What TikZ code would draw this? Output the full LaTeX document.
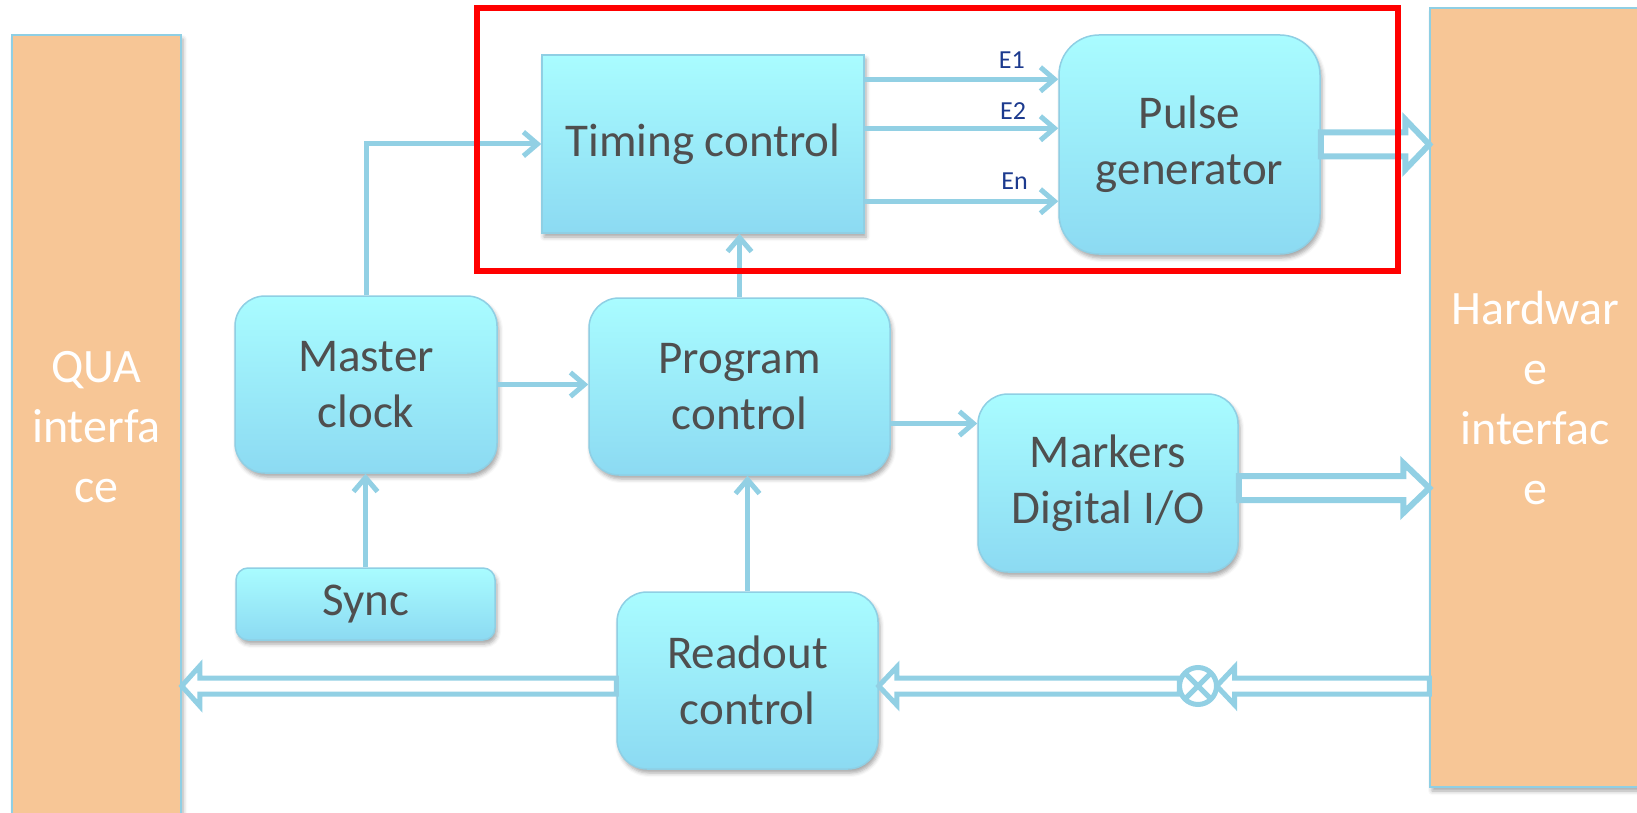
\documentclass[tikz,border=0pt]{standalone}
\usepackage{fontspec}
\setmainfont{Carlito}
\usetikzlibrary{arrows.meta,calc,shadows.blur}

\definecolor{cyantop}{HTML}{A9FCFF}
\definecolor{cyanbot}{HTML}{8CDAF2}
\definecolor{edge}{HTML}{8FCFE4}
\definecolor{conn}{HTML}{92D0E4}
\definecolor{peach}{HTML}{F7C696}
\definecolor{boxtext}{HTML}{4F4F4F}
\definecolor{sig}{HTML}{1C3A8E}

\tikzset{
  softshadow/.style={blur shadow={shadow xshift=2pt, shadow yshift=-4pt,
      shadow blur radius=4pt, shadow opacity=35}},
  block/.style={draw=edge, line width=1.5pt, top color=cyantop, bottom color=cyanbot,
    text=boxtext, font=\fontsize{47}{56}\selectfont, align=center, inner sep=0pt,
    softshadow},
  rblock/.style={block, rounded corners=#1},
  rblock/.default=30pt,
  iface/.style={draw=edge, line width=1.5pt, fill=peach, text=white,
    font=\fontsize{48}{60}\selectfont, align=center, inner sep=0pt, softshadow},
  link/.style={draw=conn, line width=5pt,
    -{Straight Barb[length=14pt,width=24pt,line width=5pt]}},
  hollow/.style={draw=conn, fill=white, line join=miter},
  siglabel/.style={text=sig, font=\fontsize{26}{30}\selectfont, inner sep=0pt},
}

% block arrow outline pointing right / left: [opts]{from}{to}{shaft half}{head half}{head length}
\newcommand\hollowR[6][]{\draw[hollow,#1] let \p1=(#2), \p2=(#3) in
  (\x1,\y1+#4) -- (\x2-#6,\y1+#4) -- (\x2-#6,\y1+#5) -- (\x2,\y1) --
  (\x2-#6,\y1-#5) -- (\x2-#6,\y1-#4) -- (\x1,\y1-#4) -- cycle;}
\newcommand\hollowL[6][]{\draw[hollow,#1] let \p1=(#2), \p2=(#3) in
  (\x1,\y1+#4) -- (\x2+#6,\y1+#4) -- (\x2+#6,\y1+#5) -- (\x2,\y1) --
  (\x2+#6,\y1-#5) -- (\x2+#6,\y1-#4) -- (\x1,\y1-#4) -- cycle;}

\begin{document}
\begin{tikzpicture}[x=1pt,y=-1pt]
\useasboundingbox (0,0) rectangle (1637,813);

% interfaces on both sides
\node[iface, minimum width=169pt, minimum height=785pt] (qua) at (96.5,427.5)
  {QUA\\interfa\\ce};
\node[iface, minimum width=210pt, minimum height=779pt] (hw) at (1535,397.5)
  {Hardwar\\e\\interfac\\e};

% functional blocks
\node[block, minimum width=322pt, minimum height=178pt] (timing) at (703,144)
  {Timing control};
\node[rblock=40pt, minimum width=261pt, minimum height=219pt] (pg) at (1189.5,144.5)
  {Pulse\\generator};
\node[rblock, minimum width=262pt, minimum height=177pt] (master) at (366,384.5)
  {Master\\clock};
\node[rblock, minimum width=301pt, minimum height=177pt] (program) at (739.5,386.5)
  {Program\\control};
\node[rblock, minimum width=260pt, minimum height=178pt] (markers) at (1108,483)
  {Markers\\Digital I/O};
\node[rblock=12pt, minimum width=259pt, minimum height=72pt] (sync) at (365.5,604)
  {Sync};
\node[rblock, minimum width=261pt, minimum height=177pt] (readout) at (747.5,680.5)
  {Readout\\control};

% signal connectors
\draw[link] (master.north) |- (timing.west);
\draw[link] (master.east) -- (master.east -| program.west);
\draw[link] (program.north) -- (program.north |- timing.south);
\draw[link] (readout.north) -- (readout.north |- program.south);
\draw[link] (sync.north) -- (sync.north |- master.south);
\coordinate (pm) at ([yshift=-37pt]program.east);
\draw[link] (pm) -- (pm -| markers.west);

% trigger lines E1..En
\coordinate (t1) at ([yshift=-25pt]timing.north east);
\coordinate (t2) at ([yshift=-74pt]timing.north east);
\coordinate (tn) at ([yshift=-147pt]timing.north east);
\draw[link] (t1) -- (t1 -| pg.west) node[siglabel, pos=0.76, above=8pt] (e1) {E1};
\draw[link] (t2) -- (t2 -| pg.west) node[siglabel, pos=0.767, above=6pt] (e2) {E2};
\draw[link] (tn) -- (tn -| pg.west) node[siglabel, pos=0.774, above=9pt] (en) {En};

% wide data paths
\node[circle, minimum size=37pt, inner sep=0pt] (mx) at (1198,686) {};
\hollowR[line width=6pt]{pg.east}{hw.west}{12pt}{25pt}{24pt}
\hollowR[line width=6pt]{[yshift=-5pt]markers.east}{hw.west}{12pt}{25pt}{26pt}
\hollowL[line width=5pt]{hw.west |- mx}{mx.east}{8pt}{19pt}{18pt}
\hollowL[line width=5pt]{mx.west}{readout.east |- mx}{8pt}{19pt}{18pt}
\hollowL[line width=5pt]{readout.west |- mx}{qua.east |- mx}{8pt}{20pt}{18pt}

% mixer
\draw[conn, line width=5pt, fill=white] (mx) circle[radius=18.5pt];
\draw[conn, line width=5pt] (mx.north east) -- (mx.south west)
  (mx.north west) -- (mx.south east);

% highlighted region
\node[draw=red, line width=6pt, minimum width=921pt, minimum height=263pt,
  inner sep=0pt] (focus) at (937.5,139.5) {};
\end{tikzpicture}
\end{document}
